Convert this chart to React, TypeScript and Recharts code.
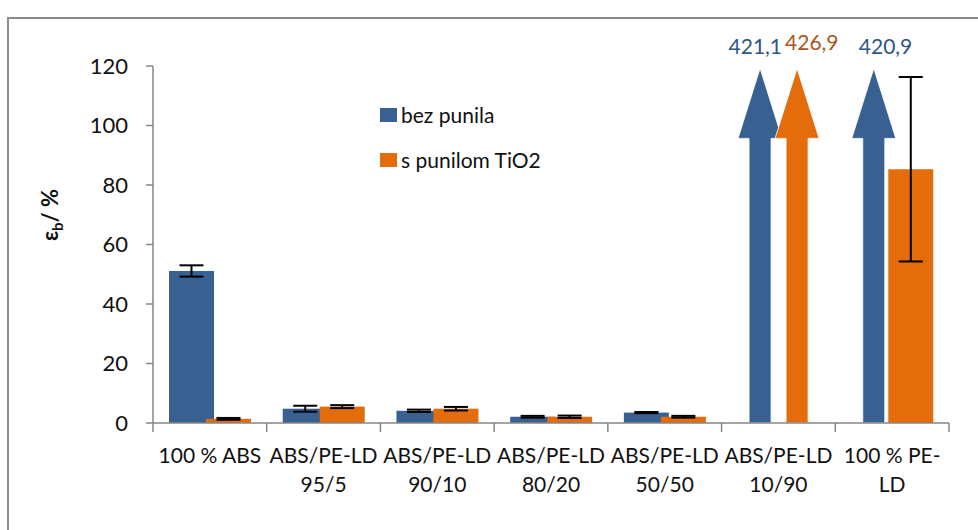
import { BarChart, Bar, XAxis, YAxis, ErrorBar, LabelList } from 'recharts'

const categories = [
  '100 % ABS',
  'ABS/PE-LD 95/5',
  'ABS/PE-LD 90/10',
  'ABS/PE-LD 80/20',
  'ABS/PE-LD 50/50',
  'ABS/PE-LD 10/90',
  '100 % PE-LD',
]
const tickLines = [
  ['100 % ABS'],
  ['ABS/PE-LD', '95/5'],
  ['ABS/PE-LD', '90/10'],
  ['ABS/PE-LD', '80/20'],
  ['ABS/PE-LD', '50/50'],
  ['ABS/PE-LD', '10/90'],
  ['100 % PE-', 'LD'],
]
const bezPunila = [51.1, 4.8, 4.1, 2.1, 3.5, 421.1, 420.9]
const bezPunilaErr = [1.9, 1.0, 0.4, 0.3, 0.2, null, null]
const sTiO2 = [1.4, 5.5, 4.8, 2.1, 2.1, 426.9, 85.3]
const sTiO2Err = [0.3, 0.5, 0.6, 0.4, 0.3, null, 31]
const yTicks = [0, 20, 40, 60, 80, 100, 120]
const seriesNames = ['bez punila', 's punilom TiO2']

const BLUE = '#386192'
const ORANGE = '#E46C0A'
const AXIS = '#868686'
const FONT = 'Lato, "Open Sans", sans-serif'
const Y_MAX = 120
const CAP = 119.2

const data = categories.map((name, i) => ({
  name,
  blue: Math.min(bezPunila[i], CAP),
  blueRaw: bezPunila[i],
  blueErr: bezPunilaErr[i],
  orange: Math.min(sTiO2[i], CAP),
  orangeRaw: sTiO2[i],
  orangeErr: sTiO2Err[i],
}))

const W = 978
const H = 530
const M = { top: 66, right: 29, bottom: 47, left: 73 }
const Y_W = 80
const BAND = (W - M.left - Y_W - M.right) / categories.length

function makeShape(color: string, rawKey: 'blueRaw' | 'orangeRaw') {
  return (props: any) => {
    const { x, y, width, height, payload } = props
    if (payload[rawKey] > Y_MAX) {
      const cx = x + width / 2
      const bottom = y + height
      const headH = 70
      const headW = 22
      const shaftW = 11
      const d = `M${cx} ${y} L${cx + headW} ${y + headH} L${cx + shaftW} ${y + headH} L${cx + shaftW} ${bottom} L${cx - shaftW} ${bottom} L${cx - shaftW} ${y + headH} L${cx - headW} ${y + headH} Z`
      return <path d={d} fill={color} stroke="#fff" strokeWidth={0.8} />
    }
    return <rect x={x} y={y} width={width} height={height} fill={color} />
  }
}

function arrowLabel(series: 'blue' | 'orange') {
  return (props: any) => {
    const { x, y, width, index } = props
    const raw = series === 'blue' ? bezPunila[index] : sTiO2[index]
    if (raw <= Y_MAX) return null
    const cx = x + width / 2
    const txt = raw.toFixed(1).replace('.', ',')
    if (series === 'blue') {
      const both = sTiO2[index] > Y_MAX
      return (
        <text x={both ? cx + 22 : cx - 15} y={y - 14} textAnchor={both ? 'end' : 'start'}
          fontSize={21} fontFamily={FONT} fill="#2F5687">{txt}</text>
      )
    }
    return (
      <text x={cx - 12} y={y - 18} textAnchor="start" fontSize={21} fontFamily={FONT} fill="#A9561C">{txt}</text>
    )
  }
}

const XTick = (props: any) => {
  const { x, y, payload, index } = props
  const lines = tickLines[index] || [payload.value]
  const left = x - BAND / 2
  const axisY = y - 8
  return (
    <g>
      <line x1={left} x2={left} y1={axisY} y2={axisY + 9} stroke={AXIS} strokeWidth={1.5} />
      {index === categories.length - 1 && (
        <line x1={left + BAND} x2={left + BAND} y1={axisY} y2={axisY + 9} stroke={AXIS} strokeWidth={1.5} />
      )}
      {lines.map((l: string, i: number) => (
        <text key={i} x={x} y={axisY + 40 + i * 29} textAnchor="middle" fontSize={21} fontFamily={FONT} fill="#111">
          {l}
        </text>
      ))}
    </g>
  )
}

const LegendBox = () => (
  <div style={{ position: 'absolute', left: 380, top: 92, fontFamily: FONT, fontSize: 21, color: '#111' }}>
    {seriesNames.map((label, i) => (
      <div key={i} style={{ display: 'flex', alignItems: 'center', height: 45 }}>
        <span style={{ width: 17, height: 14, background: i === 0 ? BLUE : ORANGE, marginRight: 4, display: 'inline-block' }} />
        <span>{label}</span>
      </div>
    ))}
  </div>
)

const YLabel = () => (
  <text x={0} y={0} transform="translate(58,215) rotate(-90)" textAnchor="middle" fontSize={22} fontWeight="bold" fontFamily={FONT} fill="#111">
    ε<tspan fontSize={15} dy={5}>b</tspan><tspan dy={-5}>/ %</tspan>
  </text>
)

export default function App() {
  return (
    <div style={{ position: 'absolute', left: 0, top: 0, width: W, height: H, background: '#fff', overflow: 'hidden' }}>
      <div style={{ position: 'absolute', left: 7, top: 17, width: 1200, height: 800, borderLeft: '2px solid #8c8c8c', borderTop: '2px solid #8c8c8c' }} />
      <BarChart width={W} height={H} data={data} margin={M} barSize={45} barGap={-8} barCategoryGap={0}
        style={{ position: 'absolute', left: 0, top: 0 }}>
        <XAxis dataKey="name" axisLine={{ stroke: AXIS, strokeWidth: 1.5 }} tickLine={false} tick={<XTick />}
          height={60} interval={0} />
        <YAxis domain={[0, Y_MAX]} ticks={yTicks} width={Y_W} axisLine={{ stroke: AXIS, strokeWidth: 1.5 }}
          tickLine={{ stroke: AXIS, strokeWidth: 1.5 }} tickSize={7} tickMargin={18}
          tick={{ fontSize: 22, fontFamily: FONT, fill: '#111' }} label={<YLabel />} />
        <Bar dataKey="blue" name={seriesNames[0]} fill={BLUE} isAnimationActive={false} shape={makeShape(BLUE, 'blueRaw')}>
          <ErrorBar dataKey="blueErr" width={12} stroke="#000" strokeWidth={2} />
          <LabelList dataKey="blue" content={arrowLabel('blue')} />
        </Bar>
        <Bar dataKey="orange" name={seriesNames[1]} fill={ORANGE} isAnimationActive={false} shape={makeShape(ORANGE, 'orangeRaw')}>
          <ErrorBar dataKey="orangeErr" width={12} stroke="#000" strokeWidth={2} />
          <LabelList dataKey="orange" content={arrowLabel('orange')} />
        </Bar>
      </BarChart>
      <LegendBox />
    </div>
  )
}
